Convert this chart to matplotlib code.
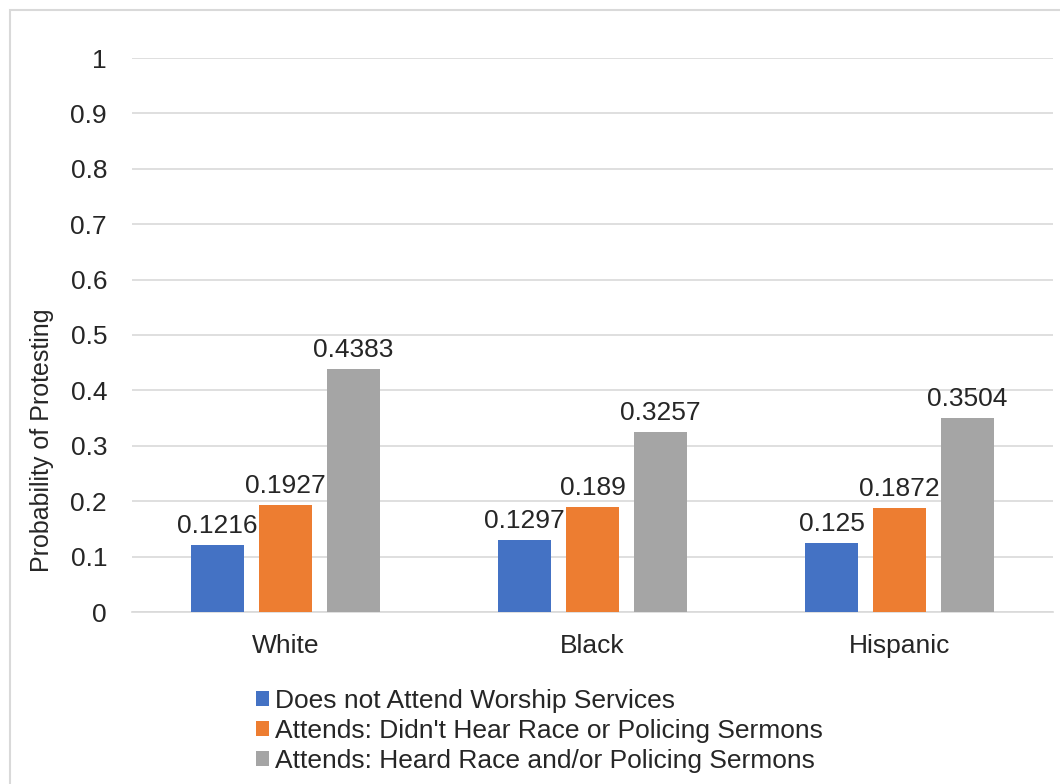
import matplotlib
matplotlib.use("Agg")
import matplotlib.pyplot as plt
from matplotlib.patches import Rectangle, Patch

plt.rcParams["font.family"] = ["Liberation Sans", "DejaVu Sans"]

groups = ["White", "Black", "Hispanic"]
series_names = [
    "Does not Attend Worship Services",
    "Attends: Didn't Hear Race or Policing Sermons",
    "Attends: Heard Race and/or Policing Sermons",
]
not_attend = [0.1216, 0.1297, 0.125]
no_sermon = [0.1927, 0.189, 0.1872]
heard_sermon = [0.4383, 0.3257, 0.3504]
labels = [["0.1216", "0.1297", "0.125"],
          ["0.1927", "0.189", "0.1872"],
          ["0.4383", "0.3257", "0.3504"]]
colors = ["#4472C4", "#ED7D31", "#A5A5A5"]
y_ticks = [0, 0.1, 0.2, 0.3, 0.4, 0.5, 0.6, 0.7, 0.8, 0.9, 1]
y_tick_labels = ["0", "0.1", "0.2", "0.3", "0.4", "0.5", "0.6", "0.7", "0.8", "0.9", "1"]

FS = 19

fig = plt.figure(figsize=(10.6, 7.84), dpi=100)
fig.patches.append(Rectangle((10 / 1060, -0.1), 1.2, 1 - 10 / 784 + 0.1,
                             transform=fig.transFigure, fill=False,
                             edgecolor="#d9d9d9", linewidth=1.5))
ax = fig.add_axes([132 / 1060, 1 - 612 / 784, (1053 - 132) / 1060, (612 - 58) / 784])

width = 0.17
step = 0.2215
for i, vals in enumerate([not_attend, no_sermon, heard_sermon]):
    xs = [g + (i - 1) * step for g in range(len(groups))]
    ax.bar(xs, vals, width=width, color=colors[i], zorder=3)
    for x, v, lab in zip(xs, vals, labels[i]):
        ax.annotate(lab, (x, v), xytext=(0, 5), textcoords="offset points",
                    ha="center", va="bottom", fontsize=FS, color="#262626")

ax.set_xlim(-0.5, 2.5)
ax.set_ylim(0, 1)
ax.set_yticks(y_ticks)
ax.set_yticklabels(y_tick_labels)
ax.set_xticks(range(len(groups)))
ax.set_xticklabels(groups)
ax.tick_params(axis="both", length=0, labelsize=FS, colors="#262626")
ax.tick_params(axis="y", pad=18)
ax.tick_params(axis="x", pad=16)
ax.yaxis.grid(True, color="#d9d9d9", linewidth=1.2, zorder=0)
for s in ["top", "right", "left"]:
    ax.spines[s].set_visible(False)
ax.spines["bottom"].set_color("#d9d9d9")
ax.spines["bottom"].set_linewidth(1.2)

fig.text(42 / 1060, 1 - 440 / 784, "Probability of Protesting", rotation=90,
         ha="center", va="center", fontsize=FS - 1, color="#262626")

handles = [Patch(facecolor=c) for c in colors]
fig.legend(handles, series_names, loc="upper left",
           bbox_to_anchor=(243 / 1060, 1 - 676 / 784), frameon=False,
           fontsize=FS, handlelength=0.5, handleheight=0.5,
           handletextpad=0.2, labelspacing=0.22, borderpad=0,
           labelcolor="#262626")

fig.savefig("out.png", dpi=100)
